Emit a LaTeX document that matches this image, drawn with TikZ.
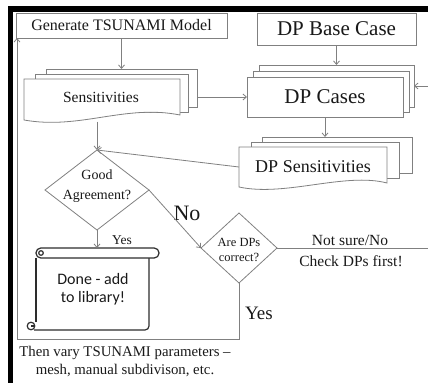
\documentclass[tikz,border=0pt]{standalone}
\usepackage{fontspec}
\setmainfont{Liberation Serif}
\newfontfamily\calib{Carlito}
\usetikzlibrary{arrows.meta,shapes.geometric,calc}
\definecolor{lc}{RGB}{128,128,128}
\definecolor{tc}{RGB}{25,25,25}
\definecolor{sc}{RGB}{45,45,45}
\begin{document}
\begin{tikzpicture}[x=1pt,y=-1pt,
  every node/.style={text=tc, inner sep=0pt, outer sep=0pt},
  box/.style={draw=lc, fill=white, line width=0.8pt},
  sheet/.style={draw=lc, fill=white, line width=0.8pt},
  ln/.style={draw=lc, line width=0.8pt},
  arr/.style={draw=lc, line width=0.8pt, -{Straight Barb[length=3.5pt,width=6pt]}},
  dia/.style={diamond, draw=lc, fill=white, line width=0.8pt, inner sep=0pt},
  scroll/.style={draw=sc, line width=1.2pt},
  bigf/.style={font=\fontsize{21}{25}\selectfont}
]
\useasboundingbox (0,0) rectangle (428,383);
% black frame
\fill[black] (8,6) rectangle (428,12);
\fill[black] (8,6) rectangle (13,383);

% Generate
\node[box, minimum width=211pt, minimum height=25pt, font=\fontsize{16}{19}\selectfont] (gen) at (121.5,25.5) {Generate TSUNAMI Model};
% DP Base Case
\node[box, minimum width=159pt, minimum height=32pt, bigf] (base) at (336.5,29) {DP Base Case};

% DP Cases (stack)
\node[sheet, minimum width=155pt, minimum height=42pt] (casesB) at (336.5,86) {};
\node[sheet, minimum width=156pt, minimum height=41pt] (casesM) at (331,91.5) {};
\node[box, minimum width=156pt, minimum height=40pt, bigf] (cases) at (325,97) {DP Cases};

% Sensitivities (multi-document)
\node[sheet, minimum width=151pt, minimum height=38pt] (sensB) at (121.5,88) {};
\node[sheet, minimum width=153pt, minimum height=38pt] (sensM) at (111.5,93) {};
\draw[ln, fill=white] (24,79) -- (180,79) -- (180,115) .. controls (125,104) and (80,130) .. (24,120) -- cycle;
\node[minimum width=156pt, minimum height=39pt, font=\fontsize{15.5}{18}\selectfont] (sens) at (101,97) {Sensitivities};

% DP Sensitivities (multi-document)
\node[sheet, minimum width=150pt, minimum height=36pt] (dpsB) at (337,155) {};
\node[sheet, minimum width=148pt, minimum height=36pt] (dpsM) at (325,160) {};
\draw[ln, fill=white] (239,147) -- (387,147) -- (387,183) .. controls (345,172) and (285,197) .. (239,187) -- cycle;
\node[minimum width=148pt, minimum height=40pt, font=\fontsize{18}{21}\selectfont] (dps) at (313,167) {\raisebox{-3pt}{DP Sensitivities}};

% Diamonds
\node[dia, minimum width=104pt, minimum height=80pt] (good) at (97,190) {};
\node[align=center, font=\fontsize{14}{20}\selectfont] (goodtxt) at (97,186) {Good\\Agreement?};
\node[dia, minimum width=76pt, minimum height=70pt] (are) at (239,248) {};
\node[align=center, font=\fontsize{12.5}{15}\selectfont] (aretxt) at (239,250) {Are DPs\\correct?};

% Done scroll
\draw[scroll] (36,258) -- (36,322);
\draw[scroll, rounded corners=4pt] (149,258) -- (149,330) -- (34,330);
\draw[scroll, fill=white] (31,326) circle[radius=3.8];
\draw[scroll] (31,326) -- (35,326);
\draw[scroll, fill=white, rounded corners=4.8pt] (36,248) rectangle (159,258);
\draw[scroll] (41,253) circle[radius=2.3];
\node[minimum width=113pt, minimum height=82pt, align=center, font=\calib\fontsize{16}{18.5}\selectfont] (done) at (93,289) {Done - add\\to library!};

% labels
\node[font=\fontsize{22}{26}\selectfont] (lno) at (187,213) {No};
\node[font=\fontsize{13.5}{16}\selectfont] (lyes1) at (122,240) {Yes};
\node[font=\fontsize{15.5}{19}\selectfont] (lns) at (350,240) {Not sure/No};
\node[font=\fontsize{15.5}{19}\selectfont] (lchk) at (351,261) {Check DPs first!};
\node[font=\fontsize{19}{22}\selectfont] (lyes2) at (259,313) {Yes};
\node[align=center, font=\fontsize{14.8}{18}\selectfont] (vary) at (125,361) {Then vary TSUNAMI parameters \textendash\\mesh, manual subdivison, etc.};

% connectors
\coordinate (rin) at (428,86);
\coordinate (rout) at (428,248);
\coordinate (bl) at (17,339);
\draw[arr] (gen.south -| sensB.north) -- (sensB.north);
\draw[arr] (base.south) -- (casesB.north);
\draw[arr] (sensB.east |- cases.west) -- (cases.west);
\draw[arr] (rin) -- (rin -| casesB.east);
\draw[arr] (cases.south) -- (cases.south |- dpsB.north);
\draw[arr] ($(sens.south -| good.north)+(0,5)$) -- (good.north);
\draw[arr] (dps.west) -- (good.north);
\draw[arr] (good.south) -- (good.south |- done.north);
\draw[arr] (good.east) -- (are.west);
\draw[ln] (are.east) -- (rout);
\draw[arr] (are.south) |- (bl) -- (bl |- gen.south);
\end{tikzpicture}
\end{document}
